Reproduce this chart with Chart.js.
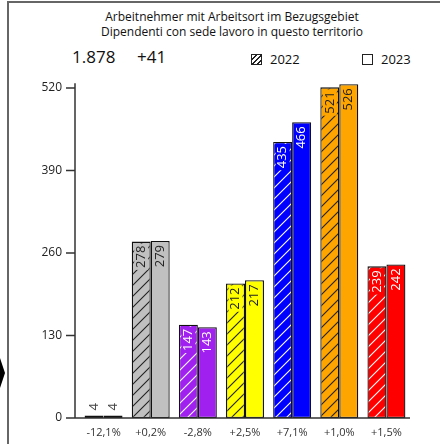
<!DOCTYPE html>
<html>
<head>
<meta charset="utf-8">
<script src="https://cdn.jsdelivr.net/npm/chart.js@4.4.1/dist/chart.umd.min.js"></script>
<style>
  html, body { margin: 0; padding: 0; background: #fff; }
  body { width: 440px; height: 444px; position: relative; overflow: hidden; font-family: 'Open Sans', sans-serif; color: #111; }
  #frame { position: absolute; left: 7px; top: 1px; width: 440px; height: 450px; border-left: 2px solid #666; border-top: 2px solid #666; }
  #nub { position: absolute; left: 0; top: 358px; width: 5px; height: 30px; background: #000; clip-path: polygon(0 0, 100% 50%, 0 100%); }
  .title { position: absolute; left: 0; width: 464px; text-align: center; font-size: 12px; line-height: 14px; }
  .big { position: absolute; top: 45px; font-size: 17px; }
  .leg { position: absolute; top: 50px; font-size: 13px; }
  .leg i { display: inline-block; width: 9px; height: 9px; border: 1.3px solid #222; vertical-align: -1px; margin-right: 8px; }
  #chart-wrap { position: absolute; left: 0; top: 0; width: 440px; height: 444px; }
</style>
</head>
<body>
<div id="frame"></div>
<div id="nub"></div>
<div class="title" style="top:10px">Arbeitnehmer mit Arbeitsort im Bezugsgebiet</div>
<div class="title" style="top:25px">Dipendenti con sede lavoro in questo territorio</div>
<div class="big" style="left:72px">1.878</div>
<div class="big" style="left:137px">+41</div>
<div class="leg" style="left:251px"><i id="leg-hatch"></i>2022</div>
<div class="leg" style="left:362px"><i></i>2023</div>
<div id="chart-wrap"><canvas id="chart"></canvas></div>
<script>
/* ── data ── */
const CATEGORIES  = ['-12,1%', '+0,2%', '-2,8%', '+2,5%', '+7,1%', '+1,0%', '+1,5%'];
const VALUES_2022 = [4, 278, 147, 212, 435, 521, 239];
const VALUES_2023 = [4, 279, 143, 217, 466, 526, 242];
const Y_TICKS     = [0, 130, 260, 390, 520];
const BAR_COLORS  = ['#0d5a12', '#c0c0c0', '#a020f0', '#ffff00', '#0000ff', '#ffa500', '#ff0000'];
const INK_COLORS  = ['#ffffff', '#222222', '#ffffff', '#222222', '#ffffff', '#222222', '#ffffff'];

const Y_MAX = 530;
const PX_PER_UNIT = 330 / 520;    // 520 tick sits 330px above zero line
const ZERO_Y = 418;

// diagonal "/" hatching on the bar colour
function hatch(bg, ink) {
  const s = 11;
  const c = document.createElement('canvas');
  c.width = s; c.height = s;
  const g = c.getContext('2d');
  g.fillStyle = bg; g.fillRect(0, 0, s, s);
  g.strokeStyle = ink; g.lineWidth = 1.1;
  g.beginPath();
  g.moveTo(-1, s + 1); g.lineTo(s + 1, -1);
  g.moveTo(-1, 1); g.lineTo(1, -1);
  g.moveTo(s - 1, s + 1); g.lineTo(s + 1, s - 1);
  g.stroke();
  return g.createPattern(c, 'repeat');
}
const HATCHED = BAR_COLORS.map((c, i) => hatch(c, INK_COLORS[i]));

// ── axes drawn a few px left of the plot area, like the original ──
const axisPlugin = {
  id: 'axes',
  afterDraw(chart) {
    const { ctx, chartArea, scales } = chart;
    const ax = chartArea.left - 5;
    const y0 = scales.y.getPixelForValue(0);
    ctx.save();
    ctx.strokeStyle = '#333';
    ctx.lineWidth = 1.5;
    ctx.beginPath();
    ctx.moveTo(ax, scales.y.getPixelForValue(526) - 1);
    ctx.lineTo(ax, y0);
    ctx.lineTo(chartArea.right, y0);
    Y_TICKS.forEach(t => {
      const y = scales.y.getPixelForValue(t);
      ctx.moveTo(ax - 9, y); ctx.lineTo(ax, y);
    });
    ctx.stroke();
    ctx.restore();
  }
};

// ── rotated value labels inside bar tops (hatched bars get a plain backing) ──
const valuePlugin = {
  id: 'values',
  afterDatasetsDraw(chart) {
    const { ctx } = chart;
    ctx.save();
    ctx.font = '13px "Open Sans", sans-serif';
    ctx.textBaseline = 'middle';
    chart.data.datasets.forEach((ds, di) => {
      chart.getDatasetMeta(di).data.forEach((bar, i) => {
        const v = String(ds.data[i]);
        ctx.save();
        ctx.translate(bar.x, bar.y);
        ctx.rotate(-Math.PI / 2);
        if (bar.base - bar.y < 30) {
          ctx.fillStyle = '#444';
          ctx.textAlign = 'left';
          ctx.fillText(v, 5, 0);
        } else {
          const w = ctx.measureText(v).width;
          if (di === 0) {
            ctx.fillStyle = BAR_COLORS[i];
            ctx.fillRect(-4 - w - 2, -7, w + 4, 14);
          }
          ctx.fillStyle = INK_COLORS[i];
          ctx.textAlign = 'right';
          ctx.fillText(v, -4, 0);
        }
        ctx.restore();
      });
    });
    ctx.restore();
  }
};

new Chart(document.getElementById('chart'), {
  type: 'bar',
  data: {
    labels: CATEGORIES,
    datasets: [
      { label: '2022', data: VALUES_2022, backgroundColor: HATCHED, borderColor: '#111', borderWidth: 1.3, borderSkipped: false },
      { label: '2023', data: VALUES_2023, backgroundColor: BAR_COLORS, borderColor: '#111', borderWidth: 1.3, borderSkipped: false }
    ]
  },
  options: {
    responsive: true, maintainAspectRatio: false, animation: false,
    devicePixelRatio: 1,
    layout: { padding: { top: ZERO_Y - Y_MAX * PX_PER_UNIT, right: 30, bottom: 0, left: 0 } },
    plugins: { legend: { display: false }, tooltip: { enabled: false } },
    datasets: { bar: { categoryPercentage: 0.805, barPercentage: 1 } },
    scales: {
      x: {
        grid: { display: false, drawTicks: false }, border: { display: false },
        ticks: { color: '#333', font: { family: 'Open Sans', size: 11 }, padding: 8, maxRotation: 0 },
        afterFit: s => { s.height = 444 - ZERO_Y; }
      },
      y: {
        min: 0, max: Y_MAX,
        grid: { display: false, drawTicks: false }, border: { display: false },
        afterBuildTicks: s => { s.ticks = Y_TICKS.map(v => ({ value: v })); },
        ticks: { color: '#222', font: { family: 'Open Sans', size: 12 }, padding: 18 },
        afterFit: s => { s.width = 80; }
      }
    }
  },
  plugins: [axisPlugin, valuePlugin]
});

document.getElementById('leg-hatch').style.background =
  'repeating-linear-gradient(-45deg, #fff 0 2px, #222 2px 3.5px)';
</script>
</body>
</html>
